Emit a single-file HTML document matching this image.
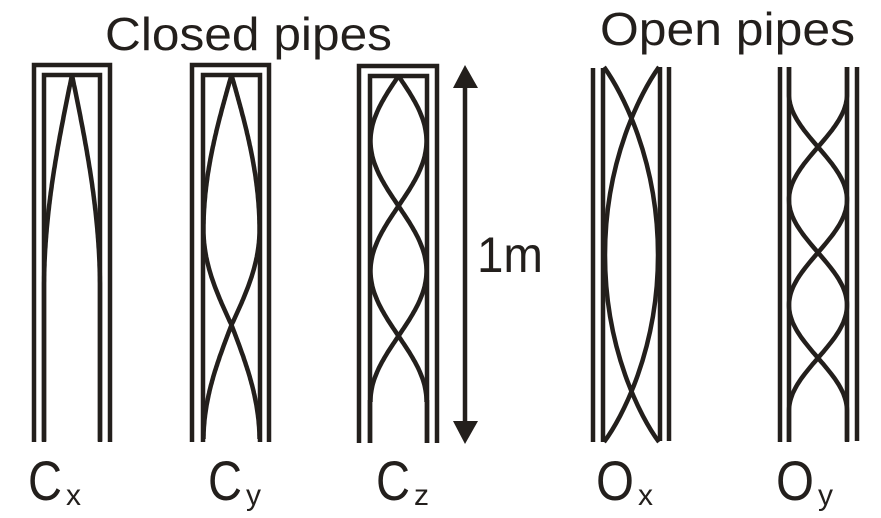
<!DOCTYPE html>
<html><head><style>html,body{margin:0;padding:0;background:#fff}svg{display:block}</style></head>
<body>
<svg id="s" width="881" height="518" viewBox="0 0 881 518" xmlns="http://www.w3.org/2000/svg" font-family="Liberation Sans, Arial, sans-serif" fill="none" stroke="#231f1c" stroke-width="4.5">
<g stroke-linecap="butt">
<path d="M34,442 V65 H110 V442 M44,442 V75 H100 V442"/>
<path d="M192,442 V65 H269 V442 M203,442 V75 H260 V442"/>
<path d="M359,443 V66 H437 V443 M370,443 V76 H427 V443"/>
<path d="M593,68 V442 M603,68 V442 M660,67 V441 M669,67 V441"/>
<path d="M780,67 V442 M789,67 V442 M847,67 V441 M857,67 V441"/>
<path d="M465,85 V425"/>
</g>
<polygon points="465,65 453,88 478,88" fill="#231f1c" stroke="none"/>
<polygon points="465,444 453,421 478,421" fill="#231f1c" stroke="none"/>
<g id="waves"></g>
<g fill="#231f1c" stroke="none">
<text x="105" y="50" font-size="46" textLength="287" lengthAdjust="spacingAndGlyphs">Closed pipes</text>
<text x="600" y="45" font-size="46" textLength="255" lengthAdjust="spacingAndGlyphs">Open pipes</text>
<text x="477" y="272" font-size="50" textLength="66" lengthAdjust="spacingAndGlyphs">1m</text>
<text x="28" y="500" font-size="56" textLength="34" lengthAdjust="spacingAndGlyphs">C</text>
<text x="66" y="505" font-size="30">x</text>
<text x="208" y="500" font-size="56" textLength="34" lengthAdjust="spacingAndGlyphs">C</text>
<text x="246" y="505" font-size="30">y</text>
<text x="376" y="500" font-size="56" textLength="34" lengthAdjust="spacingAndGlyphs">C</text>
<text x="414" y="505" font-size="30">z</text>
<text x="596" y="500" font-size="56" textLength="38" lengthAdjust="spacingAndGlyphs">O</text>
<text x="638" y="505" font-size="30">x</text>
<text x="776" y="500" font-size="56" textLength="38" lengthAdjust="spacingAndGlyphs">O</text>
<text x="818" y="505" font-size="30">y</text>
</g>
</svg>
<script>
var g=document.getElementById('waves');
function add(d){var p=document.createElementNS('http://www.w3.org/2000/svg','path');p.setAttribute('d',d);g.appendChild(p);}
function wave(c,A,y0,y1,n,L,sign,pre,post){
 var d='';
 if(pre!==undefined) d='M'+(c+sign*A*Math.sin(Math.PI*(y0-n)/L)).toFixed(1)+','+pre+' L';
 else d='M';
 for(var y=y0;y<=y1;y+=2){var x=c+sign*A*Math.sin(Math.PI*(y-n)/L);d+=(d.endsWith('M')||d.endsWith('L')?'':' L')+x.toFixed(1)+','+y;}
 if(post!==undefined){d+=' L'+(c+sign*A*Math.sin(Math.PI*(y1-n)/L)).toFixed(1)+','+post;}
 add(d);
}
function fn(c,A,f,y0,y1,sign){var d='M';for(var y=y0;y<=y1;y+=2){d+=(y==y0?'':' L')+(c+sign*A*f(y)).toFixed(1)+','+y;}add(d);}
var fx=function(y){return y<290?Math.sin(Math.PI/2*(y-75)/215):1;};
fn(72,28,fx,75,442,1);fn(72,28,fx,75,442,-1);
var fy=function(y){if(y<230)return Math.sin(Math.PI/2*(y-75)/155);if(y<325)return Math.cos(Math.PI/2*(y-230)/95);return -Math.sin(Math.PI/2*(y-325)/115);};
fn(231.5,28,fy,75,440,1);fn(231.5,28,fy,75,440,-1);
wave(398.5,28,76,402,76,130,1);wave(398.5,28,76,402,76,130,-1);
add('M370,400 V443 M427,400 V443');
wave(818,29,94,411,147,105.5,1,67,442);wave(818,29,94,411,147,105.5,-1,67,442);
add('M604,67 C622,92 658,160 658,255 C658,350 622,418 604,442');
add('M659,67 C641,92 605,160 605,255 C605,350 641,418 659,442');
</script>
</body></html>
